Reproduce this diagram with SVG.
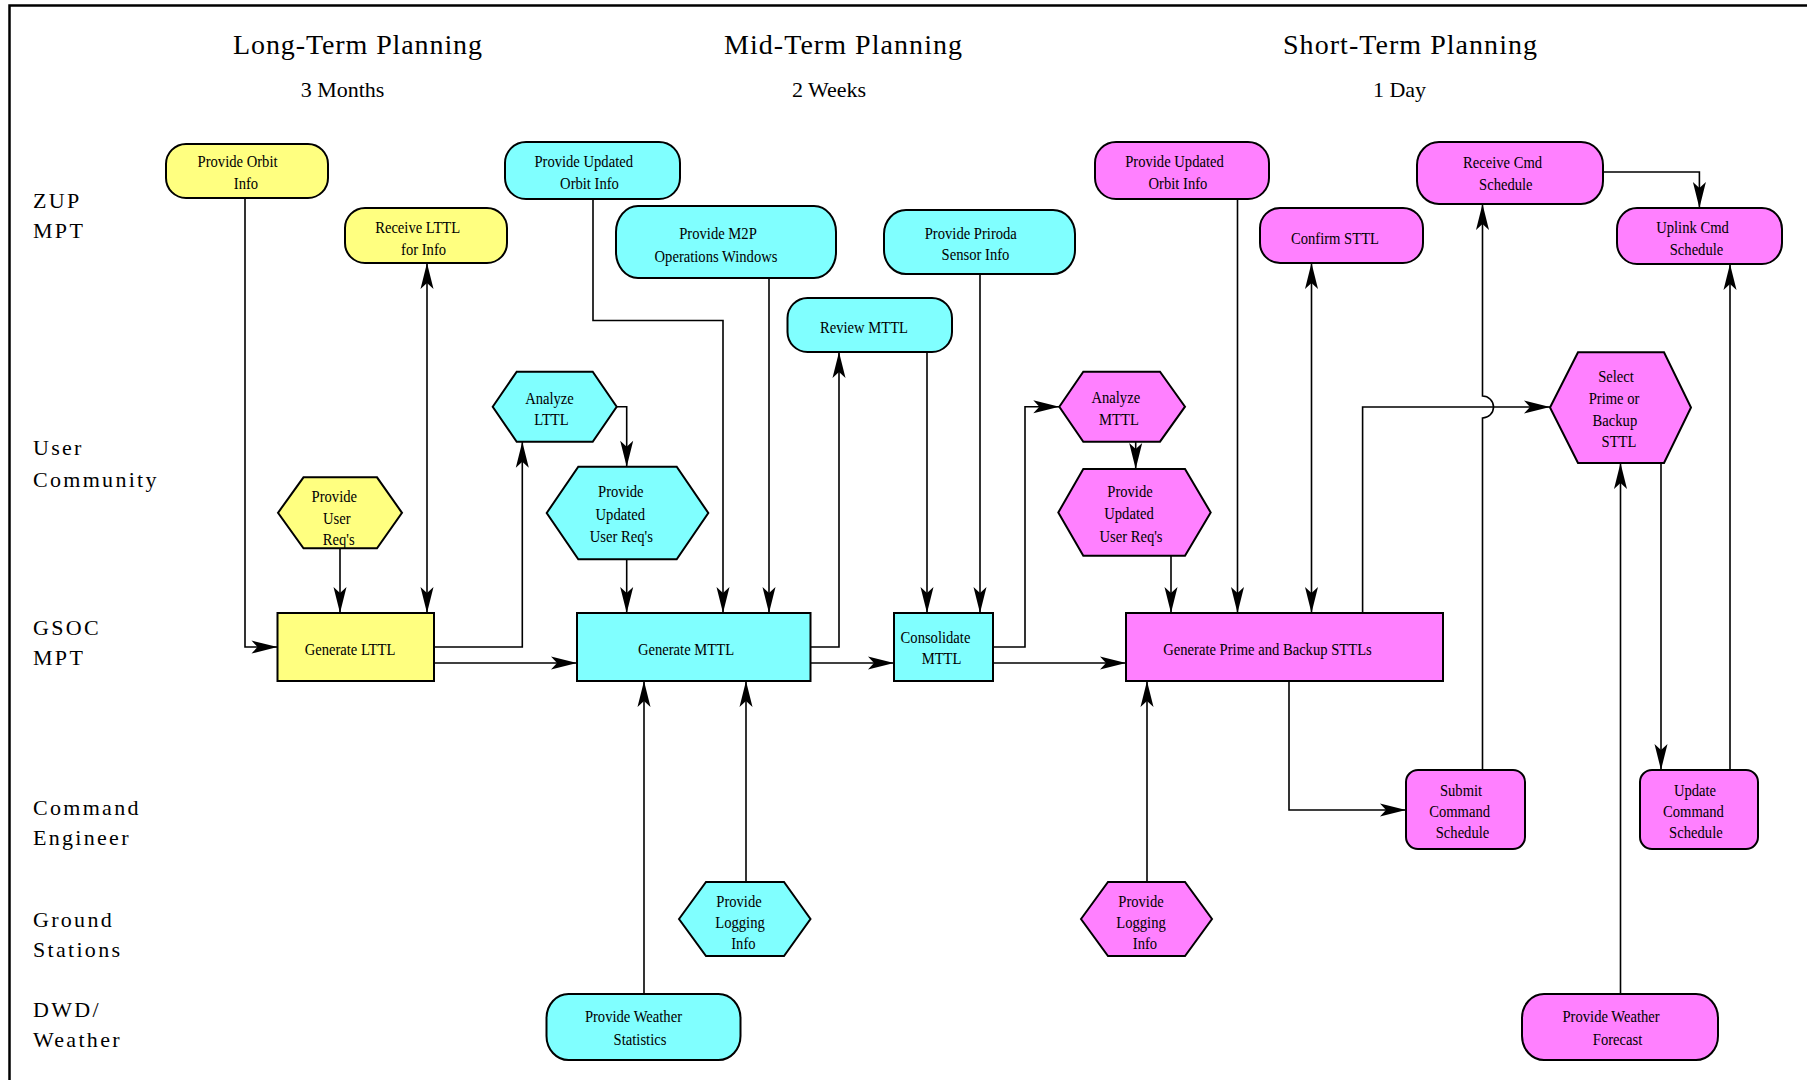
<svg xmlns="http://www.w3.org/2000/svg" width="1807" height="1080" viewBox="0 0 1807 1080">
<style>
  .bg { fill: #ffffff; }
  .frame { fill: none; stroke: #000; stroke-width: 2.5; }
  .title { font-family: "Liberation Serif", "Times New Roman", serif; font-size: 28px; fill: #000; text-anchor: middle; }
  .sub { font-family: "Liberation Serif", "Times New Roman", serif; font-size: 22px; fill: #000; text-anchor: middle; }
  .lane { font-family: "Liberation Serif", "Times New Roman", serif; font-size: 22px; letter-spacing: 2.3px; fill: #000; }
  .t { font-family: "Liberation Serif", "Times New Roman", serif; font-size: 17px; fill: #000; text-anchor: middle;
       transform-box: fill-box; transform-origin: center; transform: scaleX(0.86); }
  .y { fill: #ffff80; stroke: #000; stroke-width: 2; }
  .c { fill: #80ffff; stroke: #000; stroke-width: 2; }
  .m { fill: #ff80ff; stroke: #000; stroke-width: 2; }
  .e { fill: none; stroke: #000; stroke-width: 1.6; marker-end: url(#ah); }
  .bi { marker-start: url(#ah); }
</style>
<defs>
  <marker id="ah" markerUnits="userSpaceOnUse" markerWidth="30" markerHeight="16" viewBox="-27 -8 28 16" refX="0" refY="0" orient="auto-start-reverse">
    <path d="M0,0 L-26,-6.5 L-20,0 L-26,6.5 Z" fill="#000"/>
  </marker>
</defs>
<rect class="bg" x="0" y="0" width="1807" height="1080"/>
<rect class="frame" x="9.5" y="5.5" width="1830" height="1100"/>

<g id="headers">
  <text class="title" x="357.5" y="54" textLength="249" lengthAdjust="spacing">Long-Term Planning</text>
  <text class="title" x="843" y="54" textLength="238" lengthAdjust="spacing">Mid-Term Planning</text>
  <text class="title" x="1410" y="54" textLength="254" lengthAdjust="spacing">Short-Term Planning</text>
  <text class="sub" x="342.5" y="97">3 Months</text>
  <text class="sub" x="829" y="97">2 Weeks</text>
  <text class="sub" x="1399.5" y="97">1 Day</text>
</g>

<g id="lanes">
  <text class="lane" x="33" y="208">ZUP</text>
  <text class="lane" x="33" y="238">MPT</text>
  <text class="lane" x="33" y="455">User</text>
  <text class="lane" x="33" y="487">Community</text>
  <text class="lane" x="33" y="635">GSOC</text>
  <text class="lane" x="33" y="665">MPT</text>
  <text class="lane" x="33" y="815">Command</text>
  <text class="lane" x="33" y="845">Engineer</text>
  <text class="lane" x="33" y="927">Ground</text>
  <text class="lane" x="33" y="957">Stations</text>
  <text class="lane" x="33" y="1017">DWD/</text>
  <text class="lane" x="33" y="1047">Weather</text>
</g>

<g id="connectors">
  <path class="e" d="M245,198 V647 H277.5"/>
  <path class="e bi" d="M427,263 V613"/>
  <path class="e" d="M340,548.3 V613"/>
  <path class="e" d="M434,647 H522.3 V441.7"/>
  <path class="e" d="M434,663 H577"/>
  <path class="e" d="M616.7,406.7 H626.7 V466.7"/>
  <path class="e" d="M626.7,559.3 V613"/>
  <path class="e" d="M593,199 V320.5 H723 V613"/>
  <path class="e" d="M769,278 V613"/>
  <path class="e" d="M810.5,647 H839 V352"/>
  <path class="e" d="M927,352 V613"/>
  <path class="e" d="M980,274 V613"/>
  <path class="e" d="M810.5,663 H894"/>
  <path class="e" d="M993,647 H1025 V406.7 H1059.3"/>
  <path class="e" d="M1135.7,441.7 V469"/>
  <path class="e" d="M1171,555.7 V613"/>
  <path class="e" d="M993,663 H1126"/>
  <path class="e" d="M1237.5,199 V613"/>
  <path class="e bi" d="M1311.5,263 V613"/>
  <path class="e" d="M1362.6,613 V407 H1550"/>
  <path class="e" d="M1289,681 V810 H1406"/>
  <path class="e" d="M1482.5,770 V418 A11,11 0 0 0 1482.5,396 V204"/>
  <path class="e" d="M1603,172 H1699.4 V208"/>
  <path class="e" d="M1661,463 V770"/>
  <path class="e" d="M1730,770 V264"/>
  <path class="e" d="M1620.5,994 V463"/>
  <path class="e" d="M644,994 V681"/>
  <path class="e" d="M746,882 V681"/>
  <path class="e" d="M1147,882 V681"/>
</g>

<g id="n-provide-orbit-info">
  <rect class="y" x="166" y="144" width="162" height="54" rx="20" ry="20"/>
  <text class="t" x="237.5" y="167">Provide Orbit</text>
  <text class="t" x="246" y="189">Info</text>
</g>
<g id="n-receive-lttl">
  <rect class="y" x="345" y="208" width="162" height="55" rx="20" ry="20"/>
  <text class="t" x="417.7" y="233">Receive LTTL</text>
  <text class="t" x="423.6" y="255">for Info</text>
</g>
<g id="n-provide-user-reqs">
  <polygon class="y" points="278,512.8 303.5,477.3 377,477.3 402,512.8 377,548.3 303.5,548.3"/>
  <text class="t" x="334.3" y="502">Provide</text>
  <text class="t" x="336.8" y="524">User</text>
  <text class="t" x="338.7" y="545">Req's</text>
</g>
<g id="n-generate-lttl">
  <rect class="y" x="277.5" y="613" width="156.5" height="68"/>
  <text class="t" x="350" y="655">Generate LTTL</text>
</g>

<g id="n-provide-updated-orbit-mid">
  <rect class="c" x="505" y="142" width="175" height="57" rx="21" ry="21"/>
  <text class="t" x="583.7" y="167">Provide Updated</text>
  <text class="t" x="589.5" y="189">Orbit Info</text>
</g>
<g id="n-m2p">
  <rect class="c" x="616" y="206" width="220" height="72" rx="22" ry="26"/>
  <text class="t" x="718" y="239">Provide M2P</text>
  <text class="t" x="716" y="261.7">Operations Windows</text>
</g>
<g id="n-priroda">
  <rect class="c" x="884" y="210" width="191" height="64" rx="22" ry="24"/>
  <text class="t" x="970.8" y="239">Provide Priroda</text>
  <text class="t" x="975.5" y="260">Sensor Info</text>
</g>
<g id="n-review-mttl">
  <rect class="c" x="787.5" y="298" width="164.5" height="54" rx="20" ry="20"/>
  <text class="t" x="864" y="333">Review MTTL</text>
</g>
<g id="n-analyze-lttl">
  <polygon class="c" points="492.7,406.7 516.7,371.7 592.7,371.7 616.7,406.7 592.7,441.7 516.7,441.7"/>
  <text class="t" x="549.5" y="404">Analyze</text>
  <text class="t" x="551.5" y="425">LTTL</text>
</g>
<g id="n-provide-updated-reqs-mid">
  <polygon class="c" points="546.7,513 578.3,466.7 676.7,466.7 708.3,513 676.7,559.3 578.3,559.3"/>
  <text class="t" x="620.8" y="497.3">Provide</text>
  <text class="t" x="620.3" y="520">Updated</text>
  <text class="t" x="621.3" y="541.7">User Req's</text>
</g>
<g id="n-generate-mttl">
  <rect class="c" x="577" y="613" width="233.5" height="68"/>
  <text class="t" x="686" y="655">Generate MTTL</text>
</g>
<g id="n-consolidate-mttl">
  <rect class="c" x="894" y="613" width="99" height="68"/>
  <text class="t" x="935.5" y="643">Consolidate</text>
  <text class="t" x="941.6" y="664">MTTL</text>
</g>
<g id="n-logging-mid">
  <polygon class="c" points="679,919 706,882 784,882 810.5,919 784,956 706,956"/>
  <text class="t" x="739" y="906.7">Provide</text>
  <text class="t" x="740" y="928.3">Logging</text>
  <text class="t" x="743.4" y="949.3">Info</text>
</g>
<g id="n-weather-stats">
  <rect class="c" x="546.5" y="994" width="194" height="66" rx="22" ry="24"/>
  <text class="t" x="633.4" y="1021.7">Provide Weather</text>
  <text class="t" x="640" y="1045">Statistics</text>
</g>

<g id="n-provide-updated-orbit-short">
  <rect class="m" x="1095" y="142" width="174" height="57" rx="21" ry="21"/>
  <text class="t" x="1174.5" y="167">Provide Updated</text>
  <text class="t" x="1178" y="189">Orbit Info</text>
</g>
<g id="n-confirm-sttl">
  <rect class="m" x="1260" y="208" width="163" height="55" rx="20" ry="20"/>
  <text class="t" x="1335" y="244">Confirm STTL</text>
</g>
<g id="n-receive-cmd">
  <rect class="m" x="1417" y="142" width="186" height="62" rx="22" ry="23"/>
  <text class="t" x="1502.5" y="168">Receive Cmd</text>
  <text class="t" x="1505.8" y="190">Schedule</text>
</g>
<g id="n-uplink-cmd">
  <rect class="m" x="1617" y="208" width="165" height="56" rx="20" ry="21"/>
  <text class="t" x="1692.5" y="233">Uplink Cmd</text>
  <text class="t" x="1696.5" y="255">Schedule</text>
</g>
<g id="n-analyze-mttl">
  <polygon class="m" points="1059.3,406.7 1083.3,371.7 1160,371.7 1185,406.7 1160,441.7 1083.3,441.7"/>
  <text class="t" x="1115.8" y="403.3">Analyze</text>
  <text class="t" x="1119" y="425">MTTL</text>
</g>
<g id="n-provide-updated-reqs-short">
  <polygon class="m" points="1058.3,512.5 1083.3,469 1185,469 1210.7,512.5 1185,555.7 1083.3,555.7"/>
  <text class="t" x="1130" y="497.3">Provide</text>
  <text class="t" x="1129" y="519.3">Updated</text>
  <text class="t" x="1131" y="541.7">User Req's</text>
</g>
<g id="n-generate-sttls">
  <rect class="m" x="1126" y="613" width="317" height="68"/>
  <text class="t" x="1267.5" y="655">Generate Prime and Backup STTLs</text>
</g>
<g id="n-select-sttl">
  <polygon class="m" points="1550,407.5 1578,352.3 1664,352.3 1691,407.5 1664,463 1578,463"/>
  <text class="t" x="1616" y="382">Select</text>
  <text class="t" x="1614" y="404">Prime or</text>
  <text class="t" x="1614.9" y="426">Backup</text>
  <text class="t" x="1619" y="447">STTL</text>
</g>
<g id="n-submit-cmd">
  <rect class="m" x="1406" y="770" width="119" height="79" rx="12" ry="12"/>
  <text class="t" x="1461" y="796">Submit</text>
  <text class="t" x="1459.6" y="817.3">Command</text>
  <text class="t" x="1462.5" y="838.3">Schedule</text>
</g>
<g id="n-update-cmd">
  <rect class="m" x="1640" y="770" width="118" height="79" rx="12" ry="12"/>
  <text class="t" x="1695" y="796">Update</text>
  <text class="t" x="1693.5" y="817.3">Command</text>
  <text class="t" x="1695.9" y="838.3">Schedule</text>
</g>
<g id="n-logging-short">
  <polygon class="m" points="1081,919 1108,882 1185,882 1212,919 1185,956 1108,956"/>
  <text class="t" x="1141" y="906.7">Provide</text>
  <text class="t" x="1141" y="928.3">Logging</text>
  <text class="t" x="1145" y="949.3">Info</text>
</g>
<g id="n-weather-forecast">
  <rect class="m" x="1522" y="994" width="196" height="66" rx="22" ry="24"/>
  <text class="t" x="1611" y="1021.7">Provide Weather</text>
  <text class="t" x="1617.5" y="1045">Forecast</text>
</g>
</svg>
